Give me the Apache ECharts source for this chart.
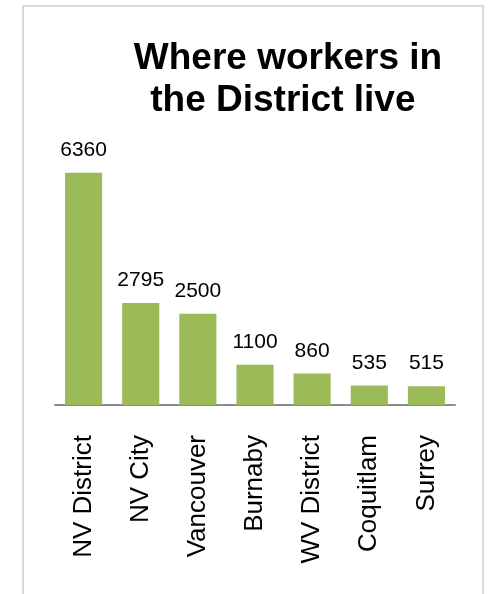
<!DOCTYPE html>
<html>
<head>
<meta charset="utf-8">
<script src="https://cdn.jsdelivr.net/npm/echarts@6/dist/echarts.min.js"></script>
<style>
  html, body { margin: 0; padding: 0; background: #fff; }
  #wrap { position: relative; width: 491px; height: 594px; overflow: hidden; }
  #frame { position: absolute; left: 22px; top: 5px; width: 462px; height: 600px; border: 2px solid #d9d9d9; box-sizing: border-box; }
  #chart { position: absolute; left: 0; top: 0; width: 491px; height: 594px; }
</style>
</head>
<body>
<div id="wrap">
  <div id="frame"></div>
  <div id="chart"></div>
</div>
<script>
const titleLines = ['Where workers in', 'the District live ']
const places = ['NV District', 'NV City', 'Vancouver', 'Burnaby', 'WV District', 'Coquitlam', 'Surrey']
const workers = [6360, 2795, 2500, 1100, 860, 535, 515]

const font = '"Liberation Sans", Arial, sans-serif'
const chart = echarts.init(document.getElementById('chart'), null, { renderer: 'canvas' })

chart.setOption({
  animation: false,
  title: {
    text: titleLines.join('\n'),
    left: 288,
    top: 38,
    textAlign: 'center',
    padding: 0,
    textStyle: { fontFamily: font, fontSize: 37, fontWeight: 'bold', color: '#000', lineHeight: 42 },
  },
  grid: { left: 55, right: 36, top: 113, bottom: 189, containLabel: false },
  xAxis: {
    type: 'category',
    data: places,
    axisLine: { lineStyle: { color: '#8c8c8c', width: 2 } },
    axisTick: { show: false },
    axisLabel: {
      rotate: 90,
      margin: 30,
      interval: 0,
      fontFamily: font,
      fontSize: 26,
      color: '#000',
    },
  },
  yAxis: {
    type: 'value',
    min: 0,
    max: 8000,
    show: false,
    splitLine: { show: false },
  },
  series: [{
    type: 'bar',
    data: workers,
    barCategoryGap: '35%',
    itemStyle: { color: '#9bbb59' },
    label: {
      show: true,
      position: 'top',
      distance: 12,
      fontFamily: font,
      fontSize: 21,
      color: '#000',
    },
  }],
})
</script>
</body>
</html>
